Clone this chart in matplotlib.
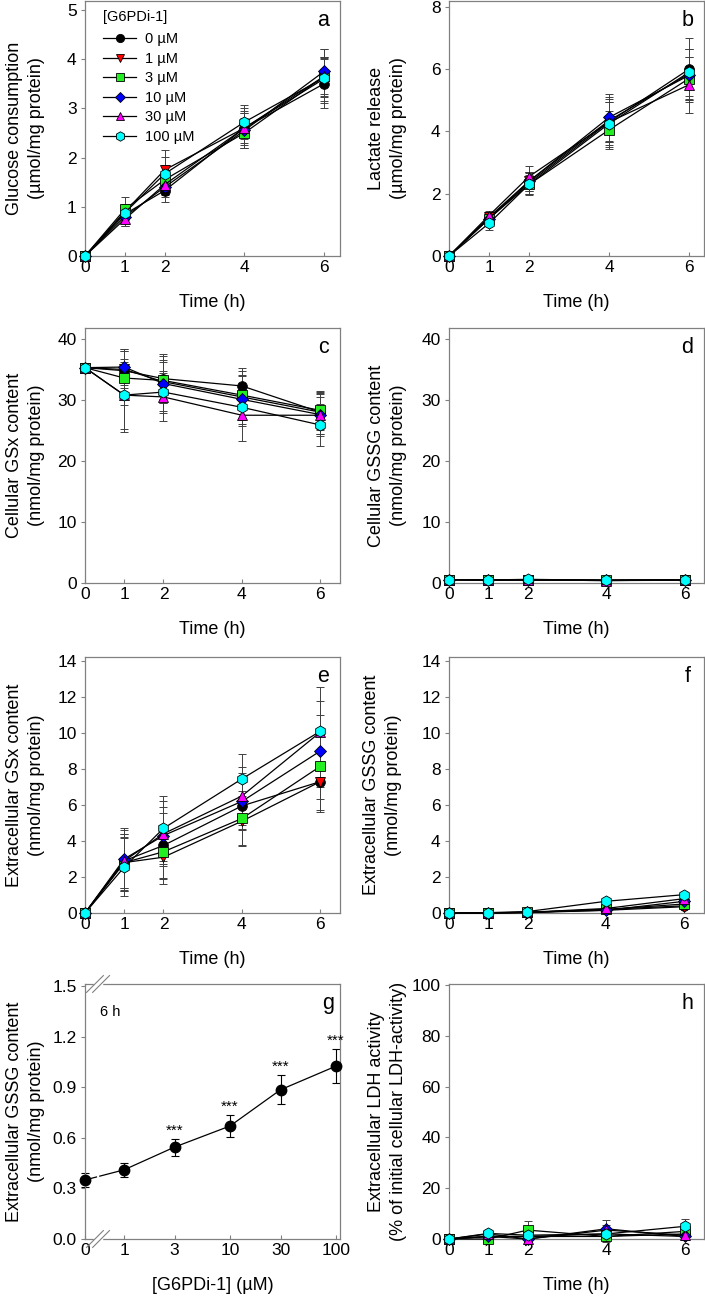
import numpy as np
import matplotlib
matplotlib.use("Agg")
import matplotlib.pyplot as plt
from matplotlib.lines import Line2D

plt.rcParams['font.family'] = ['Liberation Sans', 'DejaVu Sans']

# time course data (h), six inhibitor concentrations
times = [0, 1, 2, 4, 6]
doses = ['0 µM', '1 µM', '3 µM', '10 µM', '30 µM', '100 µM']

glucose = [[0, 0.85, 1.33, 2.60, 3.50],
           [0, 0.90, 1.75, 2.60, 3.60],
           [0, 0.95, 1.55, 2.50, 3.65],
           [0, 0.80, 1.40, 2.55, 3.75],
           [0, 0.75, 1.45, 2.60, 3.65],
           [0, 0.88, 1.67, 2.72, 3.62]]
glucose_sd = [[0, 0.10, 0.10, 0.35, 0.50],
              [0, 0.15, 0.40, 0.30, 0.45],
              [0, 0.25, 0.30, 0.30, 0.40],
              [0, 0.20, 0.30, 0.35, 0.45],
              [0, 0.15, 0.25, 0.40, 0.55],
              [0, 0.15, 0.35, 0.35, 0.40]]

lactate = [[0, 1.20, 2.35, 4.30, 6.00],
           [0, 1.25, 2.40, 4.35, 5.85],
           [0, 1.20, 2.30, 4.05, 5.70],
           [0, 1.20, 2.40, 4.45, 5.80],
           [0, 1.30, 2.55, 4.30, 5.50],
           [0, 1.05, 2.30, 4.25, 5.90]]
lactate_sd = [[0, 0.20, 0.35, 0.80, 1.00],
              [0, 0.15, 0.30, 0.70, 0.80],
              [0, 0.20, 0.35, 0.60, 0.70],
              [0, 0.20, 0.30, 0.75, 0.85],
              [0, 0.15, 0.35, 0.65, 0.90],
              [0, 0.20, 0.30, 0.70, 0.75]]

cell_gsx = [[35.3, 34.8, 33.5, 32.3, 28.0],
            [35.3, 35.0, 33.0, 30.5, 28.0],
            [35.3, 33.6, 33.2, 30.8, 28.3],
            [35.3, 35.4, 32.7, 30.1, 27.6],
            [35.3, 30.8, 30.5, 27.5, 27.5],
            [35.3, 30.8, 31.3, 28.8, 25.9]]
cell_gsx_sd = [[0.5, 3.5, 4.0, 3.0, 3.5],
               [0.5, 3.0, 3.5, 3.5, 3.0],
               [0.5, 4.5, 3.0, 4.0, 3.0],
               [0.5, 3.0, 4.5, 4.0, 3.5],
               [0.5, 6.0, 4.0, 4.2, 3.0],
               [0.5, 5.5, 3.5, 3.0, 3.5]]

cell_gssg = [[0.55, 0.50, 0.55, 0.45, 0.50],
             [0.55, 0.45, 0.50, 0.40, 0.45],
             [0.55, 0.50, 0.50, 0.45, 0.50],
             [0.55, 0.50, 0.55, 0.45, 0.55],
             [0.55, 0.45, 0.50, 0.40, 0.50],
             [0.55, 0.50, 0.60, 0.45, 0.50]]
cell_gssg_sd = [[0.10, 0.10, 0.10, 0.10, 0.10]] * 6

ext_gsx = [[0, 2.90, 3.75, 5.95, 7.30],
           [0, 2.80, 3.10, 5.10, 7.30],
           [0, 2.80, 3.40, 5.25, 8.15],
           [0, 3.00, 4.30, 6.20, 9.00],
           [0, 2.90, 4.40, 6.50, 10.05],
           [0, 2.55, 4.70, 7.45, 10.10]]
ext_gsx_sd = [[0, 1.50, 1.80, 1.30, 1.70],
              [0, 1.40, 1.50, 1.40, 1.60],
              [0, 1.60, 1.50, 1.50, 1.80],
              [0, 1.70, 1.60, 1.60, 2.00],
              [0, 1.70, 1.80, 1.60, 2.50],
              [0, 1.60, 1.80, 1.40, 1.70]]

ext_gssg = [[0, 0.00, 0.03, 0.20, 0.40],
            [0, 0.00, 0.02, 0.15, 0.35],
            [0, 0.00, 0.03, 0.20, 0.50],
            [0, 0.00, 0.05, 0.15, 0.65],
            [0, 0.00, 0.04, 0.25, 0.80],
            [0, 0.02, 0.08, 0.65, 1.02]]
ext_gssg_sd = [[0, 0.02, 0.03, 0.08, 0.10]] * 6

ldh = [[0, 1.0, 1.0, 1.0, 2.0],
       [0, 1.0, 1.0, 2.0, 1.0],
       [0, 0.0, 3.5, 1.0, 3.0],
       [0, 1.0, 0.0, 4.0, 1.0],
       [0, 2.0, 0.0, 3.5, 1.5],
       [0, 2.2, 1.5, 2.0, 5.0]]
ldh_sd = [[0, 1.0, 1.0, 1.5, 1.5],
          [0, 1.0, 1.5, 1.5, 1.5],
          [0, 1.0, 3.5, 2.0, 2.0],
          [0, 1.0, 1.0, 3.5, 1.5],
          [0, 1.0, 1.0, 2.0, 2.0],
          [0, 1.0, 2.0, 2.0, 3.0]]

# dose response after 6 h
conc = [0, 1, 3, 10, 30, 100]
conc_labels = ['0', '1', '3', '10', '30', '100']
gssg_6h = [0.35, 0.41, 0.545, 0.67, 0.885, 1.025]
gssg_6h_sd = [0.04, 0.04, 0.05, 0.065, 0.085, 0.10]
stars = ['', '', '***', '***', '***', '***']

markers = ['o', 'v', 's', 'D', '^', 'h']
colors = ['#000000', '#ff0000', '#22ee22', '#0000ff', '#ff00ff', '#00ffff']
msizes = [7, 7.5, 6.5, 6.5, 7.5, 8]
spine_col = '#808080'
W, H = 705, 1298
FS = 13


def rect(x0, x1, ytop, ybot):
    return [x0 / W, 1 - ybot / H, (x1 - x0) / W, (ybot - ytop) / H]


def style(ax, letter, ylabel, xlabel, label_x):
    for s in ax.spines.values():
        s.set_color(spine_col)
        s.set_linewidth(0.9)
    ax.tick_params(axis='x', direction='in', length=3, color=spine_col,
                   labelsize=12.5, pad=3)
    ax.tick_params(axis='y', direction='out', length=3, color=spine_col,
                   labelsize=12.5, pad=3)
    ax.set_ylabel(ylabel, fontsize=FS, linespacing=1.4)
    ax.yaxis.set_label_coords(label_x, 0.5)
    ax.set_xlabel(xlabel, fontsize=FS)
    ax.xaxis.set_label_coords(0.5, -0.15)
    ax.xaxis.label.set_va('top')
    ax.text(0.935, 0.925, letter, transform=ax.transAxes, fontsize=15.5,
            ha='center', va='center')


def timecourse(pos, means, sds, ytop, yticks, xmax, letter, ylabel, label_x):
    ax = fig.add_axes(rect(*pos))
    handles = []
    for i in range(6):
        ax.errorbar(times, means[i], yerr=sds[i], fmt='none', ecolor='#404040',
                    elinewidth=0.7, capsize=3.2, capthick=0.7, clip_on=False, zorder=2)
    for i in range(6):
        line, = ax.plot(times, means[i], '-', color='black', lw=0.9,
                        marker=markers[i], markersize=msizes[i],
                        markerfacecolor=colors[i], markeredgecolor='black',
                        markeredgewidth=0.6, clip_on=False, zorder=3, label=doses[i])
        handles.append(line)
    ax.set_xlim(0, xmax)
    ax.set_ylim(0, ytop)
    ax.set_xticks(times)
    ax.set_yticks(yticks)
    style(ax, letter, ylabel, 'Time (h)', label_x)
    return ax, handles


fig = plt.figure(figsize=(W / 100, H / 100), dpi=100, facecolor='w')

L = (85, 340)
R = (449, 704)
rows = [(1, 256), (328, 583), (657, 913), (984, 1239)]

ax_a, handles = timecourse((*L, *rows[0]), glucose, glucose_sd, 5.18, range(0, 6), 6.4, 'a',
                           'Glucose consumption\n(µmol/mg protein)', -0.157)
leg = ax_a.legend(handles=handles, title='[G6PDi-1]', loc='upper left',
                  bbox_to_anchor=(0.07, 0.965), frameon=False, fontsize=10.5,
                  title_fontsize=10.5, handlelength=2.3, handletextpad=0.6,
                  labelspacing=0.38, borderpad=0, borderaxespad=0, markerscale=0.85)
leg._legend_box.align = 'left'
leg._legend_box.sep = 6

timecourse((*R, *rows[0]), lactate, lactate_sd, 8.19, range(0, 9, 2), 6.375, 'b',
           'Lactate release\n(µmol/mg protein)', -0.165)
timecourse((*L, *rows[1]), cell_gsx, cell_gsx_sd, 41.8, range(0, 41, 10), 6.5, 'c',
           'Cellular GSx content\n(nmol/mg protein)', -0.157)
timecourse((*R, *rows[1]), cell_gssg, cell_gssg_sd, 41.8, range(0, 41, 10), 6.48, 'd',
           'Cellular GSSG content\n(nmol/mg protein)', -0.165)
timecourse((*L, *rows[2]), ext_gsx, ext_gsx_sd, 14.22, range(0, 15, 2), 6.5, 'e',
           'Extracellular GSx content\n(nmol/mg protein)', -0.157)
timecourse((*R, *rows[2]), ext_gssg, ext_gssg_sd, 14.22, range(0, 15, 2), 6.5, 'f',
           'Extracellular GSSG content\n(nmol/mg protein)', -0.184)
timecourse((*R, *rows[3]), ldh, ldh_sd, 100.4, range(0, 101, 20), 6.48, 'h',
           'Extracellular LDH activity\n(% of initial cellular LDH-activity)', -0.165)

# panel g: concentration on a log axis, zero placed left of a break
ax = fig.add_axes(rect(*L, *rows[3]))
zero_pos = -0.368
xmax_g = 2.038
xpos = [np.log10(c) if c > 0 else zero_pos for c in conc]
ax.errorbar(xpos, gssg_6h, yerr=gssg_6h_sd, fmt='none', ecolor='black',
            elinewidth=0.8, capsize=3, capthick=0.8, clip_on=False, zorder=2)

# connecting line, interrupted where the axis is broken
brk = [zero_pos + f * (xmax_g - zero_pos) for f in (0.045, 0.058)]
yb = np.interp(brk, xpos[:2], gssg_6h[:2])
ax.plot([xpos[0], brk[0]], [gssg_6h[0], yb[0]], '-', color='black', lw=0.9, zorder=3)
ax.plot([brk[1]] + xpos[1:], [yb[1]] + gssg_6h[1:], '-', color='black', lw=0.9, zorder=3)
ax.plot(xpos, gssg_6h, 'o', markersize=7.5, markerfacecolor='black',
        markeredgecolor='black', clip_on=False, zorder=4)
for xp, m, s, t in zip(xpos, gssg_6h, gssg_6h_sd, stars):
    if t:
        ax.annotate(t, (xp, m + s), xytext=(0, 3), textcoords='offset points',
                    ha='center', va='baseline', fontsize=11)
ax.set_xlim(zero_pos, xmax_g)
ax.set_ylim(0, 1.512)
ax.set_xticks(xpos)
ax.set_xticklabels(conc_labels)
ax.set_yticks(np.arange(0, 1.51, 0.3))
ax.set_yticklabels(['%.1f' % v for v in np.arange(0, 1.51, 0.3)])
style(ax, 'g', 'Extracellular GSSG content\n(nmol/mg protein)', '[G6PDi-1] (µM)', -0.157)
ax.texts[-1].set_x(0.955)
ax.text(0.06, 0.89, '6 h', transform=ax.transAxes, fontsize=10.5, ha='left', va='center')

# axis break marks on top and bottom spines
for yb in (0, 1):
    ax.add_line(Line2D([0.039, 0.063], [yb, yb], transform=ax.transAxes, color='white',
                       lw=2.5, clip_on=False, zorder=5))
    for xc in (0.039, 0.063):
        ax.add_line(Line2D([xc - 0.033, xc + 0.033], [yb - 0.033, yb + 0.033],
                           transform=ax.transAxes, color=spine_col, lw=0.8,
                           clip_on=False, zorder=6))

fig.savefig('out.png', dpi=100)
